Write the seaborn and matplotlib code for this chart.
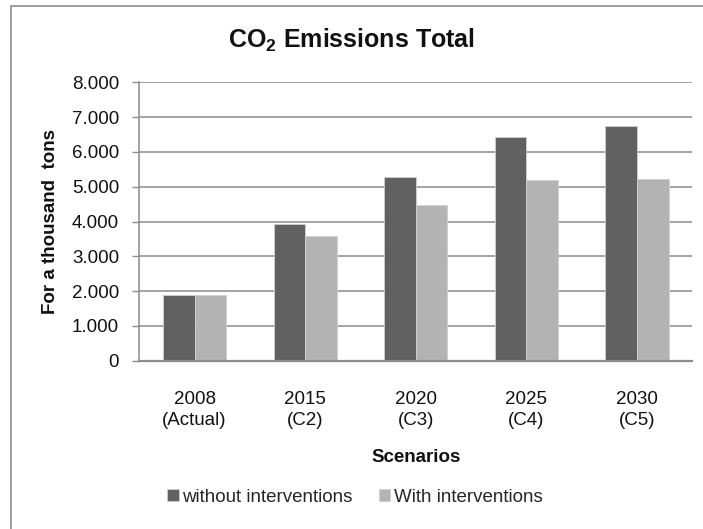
import matplotlib
matplotlib.use("Agg")
import matplotlib.pyplot as plt
import matplotlib.ticker as mticker
from matplotlib.patches import Rectangle
import pandas as pd
import seaborn as sns

# Scenario categories and CO2 totals (thousand tons)
scenarios = ["2008\n(Actual)", "2015\n(C2)", "2020\n(C3)", "2025\n(C4)", "2030\n(C5)"]
without_interventions = [1880, 3920, 5270, 6420, 6750]
with_interventions = [1880, 3570, 4460, 5190, 5230]
series_names = ["without interventions", "With interventions"]
y_ticks = [0, 1000, 2000, 3000, 4000, 5000, 6000, 7000, 8000]

sns.set_theme(style="white")
plt.rcParams["font.family"] = ["Liberation Sans", "DejaVu Sans"]
plt.rcParams["mathtext.fontset"] = "custom"
plt.rcParams["mathtext.rm"] = "Liberation Sans"
plt.rcParams["mathtext.bf"] = "Liberation Sans:bold"

df = pd.DataFrame({
    "Scenario": scenarios * 2,
    "Value": without_interventions + with_interventions,
    "Series": [series_names[0]] * len(scenarios) + [series_names[1]] * len(scenarios),
})

W, H = 703, 529
fig = plt.figure(figsize=(W / 100, H / 100), dpi=100)
ax = fig.add_axes([139.3 / W, 1 - 360.7 / H, (692.3 - 139.3) / W, (360.7 - 82.3) / H])

grid_col = "#8c8c8c"
text_col = "#111111"
fs = 13.5

ax.set_axisbelow(True)
ax.yaxis.grid(True, color=grid_col, linewidth=1.1)

sns.barplot(
    data=df, x="Scenario", y="Value", hue="Series", ax=ax,
    palette={series_names[0]: "#616161", series_names[1]: "#b3b3b3"},
    width=0.57, gap=0, saturation=1, edgecolor="#d0d0d0", linewidth=0.6,
    legend=True,
)

ax.set_ylim(0, 8000)
ax.set_yticks(y_ticks)
ax.yaxis.set_major_formatter(
    mticker.FuncFormatter(lambda v, p: f"{int(v):,}".replace(",", "."))
)
ax.tick_params(axis="y", which="major", left=True, length=5, width=1,
               color=grid_col, labelsize=fs, pad=9.5, labelcolor=text_col)
ax.tick_params(axis="x", bottom=False, labelsize=fs, pad=16, labelcolor=text_col)
for lbl in ax.get_xticklabels():
    lbl.set_linespacing(1.25)

for side in ["top", "right"]:
    ax.spines[side].set_visible(False)
ax.spines["left"].set_color(grid_col)
ax.spines["left"].set_linewidth(1.1)
ax.spines["bottom"].set_color(grid_col)
ax.spines["bottom"].set_linewidth(1.6)

ax.set_xlabel("Scenarios", fontsize=fs, fontweight="bold", labelpad=15, color=text_col)
ax.set_ylabel("For a thousand  tons", fontsize=fs, fontweight="bold", labelpad=9, color=text_col)

handles, labels = ax.get_legend_handles_labels()
ax.legend_.remove()
fig.legend(handles, labels, loc="center", bbox_to_anchor=(0.505, 1 - 497 / H),
           ncol=2, frameon=False, fontsize=fs, handlelength=0.6, handleheight=0.6,
           handletextpad=0.2, columnspacing=1.4)

fig.text(0.5, 1 - 40 / H, r"CO$_\mathbf{2}$ Emissions Total", ha="center", va="center",
         fontsize=18, fontweight="bold", color=text_col)

# chart-area frame
fig.patches.append(Rectangle((11 / W, -0.1), 1.2, 1 - 6 / H + 0.1, transform=fig.transFigure,
                             fill=False, edgecolor="#8c8c8c", linewidth=1.2))

fig.savefig("out.png", dpi=100)
